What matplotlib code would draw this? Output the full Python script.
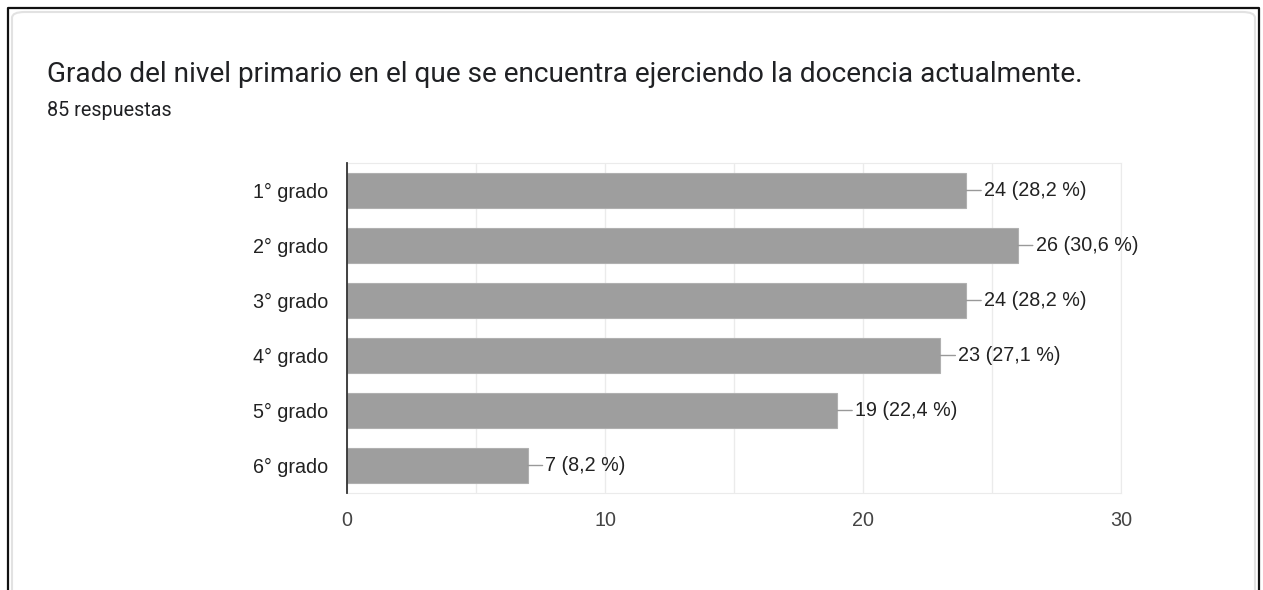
import matplotlib
matplotlib.use("Agg")
import matplotlib.pyplot as plt
from matplotlib.patches import FancyBboxPatch
from matplotlib.lines import Line2D

categorias = ["1° grado", "2° grado", "3° grado", "4° grado", "5° grado", "6° grado"]
respuestas = [24, 26, 24, 23, 19, 7]
porcentajes = ["28,2", "30,6", "28,2", "27,1", "22,4", "8,2"]
total = 85
titulo = "Grado del nivel primario en el que se encuentra ejerciendo la docencia actualmente."

fig = plt.figure(figsize=(12.63, 5.90), dpi=100)
fig.patch.set_facecolor("white")

# marco exterior (captura) y tarjeta
card = FancyBboxPatch((12/1263, -0.05), 1243/1263, 1.05 - 12/590,
                      boxstyle="round,pad=0,rounding_size=0.01",
                      transform=fig.transFigure, facecolor="white",
                      edgecolor="#e2e2e2", lw=1.5, zorder=-2)
fig.add_artist(card)
fig.add_artist(Line2D([8/1263, 8/1263, 1259/1263, 1259/1263],
                      [0, 1 - 8/590, 1 - 8/590, 0],
                      transform=fig.transFigure, color="#111111", lw=1.6,
                      zorder=-1))

fig.text(47/1263, 1 - 75/590, titulo, fontsize=20.15, family="Roboto",
         color="#202124", va="center", ha="left")
fig.text(47/1263, 1 - 111/590, f"{total} respuestas", fontsize=14.2,
         family="Roboto", color="#202124", va="center", ha="left")

ax = fig.add_axes([347/1263, 1 - 493/590, (1121 - 347)/1263, (493 - 163)/590])
y = range(len(categorias))
ax.barh(y, respuestas, height=0.62, color="#9e9e9e", edgecolor="#b0b0b0",
        linewidth=0.8, zorder=3)

for i, (v, p) in enumerate(zip(respuestas, porcentajes)):
    ax.annotate(f"{v} ({p} %)", xy=(v, i), xytext=(12.8, 0),
                textcoords="offset points", va="center", ha="left",
                fontsize=14.2, family="Liberation Sans", color="#222222",
                arrowprops=dict(arrowstyle="-", color="#999999", lw=1,
                                shrinkA=0, shrinkB=0))

ax.set_xlim(0, 30)
ax.set_ylim(len(categorias) - 0.5, -0.5)
ax.set_yticks(list(y))
ax.set_yticklabels(categorias, fontsize=14.2, family="Liberation Sans", color="#222222")
ax.set_xticks([0, 10, 20, 30])
ax.set_xticks([5, 15, 25], minor=True)
ax.set_xticklabels(["0", "10", "20", "30"], fontsize=14.2,
                   family="Liberation Sans", color="#444444")
ax.tick_params(axis="both", which="both", length=0)
ax.tick_params(axis="y", pad=13.5)
ax.tick_params(axis="x", pad=13)
ax.grid(axis="x", which="both", color="#ebebeb", lw=1, zorder=0)
for s in ["top", "right", "bottom"]:
    ax.spines[s].set_color("#ebebeb")
ax.spines["left"].set_color("#333333")
ax.spines["left"].set_linewidth(1.3)
ax.spines["left"].set_zorder(4)

fig.savefig("out.png", dpi=100, facecolor="white")
